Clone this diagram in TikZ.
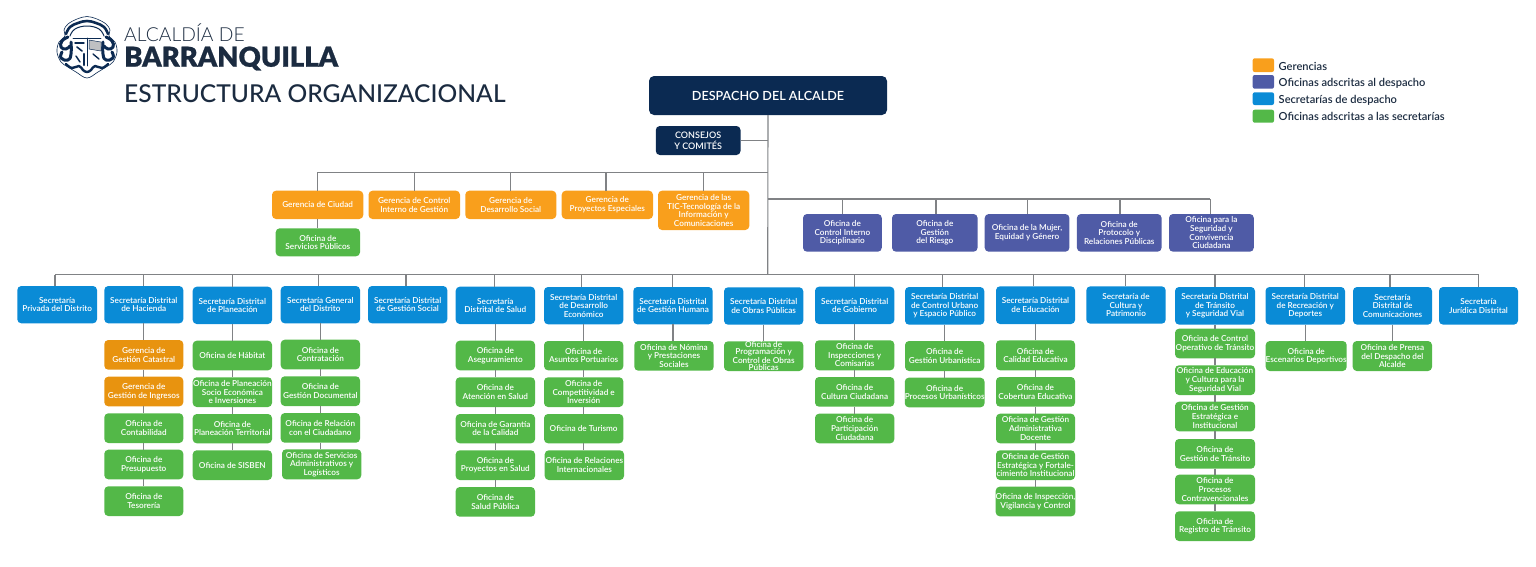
\documentclass[tikz,border=0pt]{standalone}
\usepackage{fontspec}
\setmainfont{Lato Semibold}
\newfontfamily\hvy[FakeBold=0.8]{Lato Black}
\newfontfamily\lgt{Lato Light}
\newfontfamily\mdm{Lato Medium}
\definecolor{navy}{HTML}{0B2A52}
\definecolor{ink}{HTML}{1B2B40}
\definecolor{orng}{HTML}{F99F1C}
\definecolor{dorng}{HTML}{E8930F}
\definecolor{purp}{HTML}{4F5BA6}
\definecolor{blu}{HTML}{0A8BD6}
\definecolor{grn}{HTML}{53B848}
\definecolor{wire}{HTML}{808285}
\tikzset{
 base/.style={inner sep=0pt,outer sep=0pt,rounded corners=4pt,align=center,text=white,font=\fontsize{8.2}{8.6}\selectfont},
 sec/.style={base,fill=blu},
 ofi/.style={base,fill=grn},
 ger/.style={base,fill=orng},
 ger2/.style={base,fill=dorng},
 ads/.style={base,fill=purp},
 top/.style={base,fill=navy},
 swatch/.style={inner sep=0pt,outer sep=0pt,rounded corners=2pt},
 legend/.style={anchor=west,inner sep=0pt,text=ink,font=\fontsize{11.1}{11.1}\selectfont},
 conn/.style={draw=wire,line width=1.1pt},
 seal/.style={draw=navy,line cap=round,line join=round}
}
\newcommand{\bx}[7]{\pgfmathsetmacro\cxx{(#3+#5)/2}\pgfmathsetmacro\cyy{(#4+#6)/2}\pgfmathsetmacro\wwd{#5-#3}\pgfmathsetmacro\hgt{#6-#4}\node[#2,minimum width=\wwd pt,minimum height=\hgt pt] (#1) at (\cxx,\cyy) {#7};}
\newcommand{\ch}[2]{\draw[conn] (#1.south) -- (#1.south |- #2.north);}
\begin{document}
\begin{tikzpicture}[x=1pt,y=-1pt]
\useasboundingbox (0,0) rectangle (1536,566);
% seal
\draw[seal,line width=.6pt,fill=white] plot[smooth cycle,tension=.6] coordinates {(87,16.5)(97,19)(106,24)(110,30)(109,36)(115,42)(117,52)(113,62)(106,67)(98,72)(87,78)(76,72)(68,67)(61,62)(57,52)(59,42)(65,36)(64,30)(68,24)(77,19)};
\draw[seal,line width=2.6pt] plot[smooth,tension=.7] coordinates {(66,34)(70,27)(78,23)(87,21)(96,23)(104,27)(108,34)};
\draw[seal,line width=1pt] plot[smooth,tension=.7] coordinates {(70,36)(75,29)(87,26)(99,29)(104,36)};
\draw[seal,line width=3pt] plot[smooth,tension=.8] coordinates {(68,37)(62,41)(61,47)(66,49)(70,46)};
\draw[seal,line width=3pt] plot[smooth,tension=.8] coordinates {(106,37)(112,41)(113,47)(108,49)(104,46)};
\draw[seal,line width=3pt] plot[smooth,tension=.8] coordinates {(71,42)(71,54)(68,60)(61,58)(62,52)};
\draw[seal,line width=3pt] plot[smooth,tension=.8] coordinates {(103,42)(103,54)(106,60)(113,58)(112,52)};
\draw[seal,line width=2.4pt] plot[smooth,tension=.8] coordinates {(66,64)(72,68)(79,66)(83,70)(87,72)(91,70)(95,66)(102,68)(108,64)};
\draw[seal,line width=.8pt] (73,38) -- (101,38);
\draw[seal,line width=.8pt] (87,38) -- (87,66);
\draw[seal,line width=1.4pt] (75,43) -- (84,43);
\draw[seal,line width=.5pt,fill=wire!50] (89,40) -- (101,42) -- (101,51) -- (89,49) -- cycle;
\draw[seal,line width=1.6pt] (77,47) -- (82,51);
\draw[seal,line width=2.2pt] (84,54) -- (84,65);
\draw[seal,line width=1.4pt] (93,54) -- (99,59);
\draw[seal,line width=1.4pt] (76,56) -- (80,62);
% title
\node[inner sep=0pt,anchor=base west,text=ink,font=\lgt\fontsize{19.3}{19.3}\selectfont] (lg1) at (124,41.7) {ALCALDÍA DE};
\node[inner sep=0pt,anchor=base west,text=ink,font=\hvy\fontsize{27.4}{27.4}\selectfont] (lg2) at (124,66.7) {BARRANQUILLA};
\node[inner sep=0pt,anchor=base west,text=ink,font=\mdm\fontsize{24.6}{24.6}\selectfont] (ttl) at (124,102.7) {ESTRUCTURA ORGANIZACIONAL};
% legend
\bx{k1}{swatch,fill=orng}{1252.7}{58.3}{1274}{72}{}
\bx{k2}{swatch,fill=purp}{1252.7}{75}{1274}{88.7}{}
\bx{k3}{swatch,fill=blu}{1252.7}{92.3}{1274}{105}{}
\bx{k4}{swatch,fill=grn}{1252.7}{109.7}{1274}{122.7}{}
\node[legend] (t1) at (1278.5,66) {Gerencias};
\node[legend] (t2) at (1278.5,83) {Oficinas adscritas al despacho};
\node[legend] (t3) at (1278.5,100) {Secretarías de despacho};
\node[legend] (t4) at (1278.5,116.5) {Oficinas adscritas a las secretarías};
% top
\bx{desp}{top,font=\fontsize{12.6}{13}\selectfont,rounded corners=5pt}{649}{76}{887}{115}{DESPACHO DEL ALCALDE}
\bx{cons}{top,font=\fontsize{9}{11}\selectfont}{655.8}{126}{740.5}{155}{CONSEJOS\\Y COMITÉS}
% gerencias
\bx{g1}{ger}{272}{190.7}{363.3}{219}{Gerencia de Ciudad}
\bx{g2}{ger}{368.5}{190.7}{460}{219}{Gerencia de Control\\Interno de Gestión}
\bx{g3}{ger}{465.3}{190.7}{556.3}{219}{Gerencia de\\Desarrollo Social}
\bx{g4}{ger}{561.7}{190.7}{653}{219}{Gerencia de\\Proyectos Especiales}
\bx{g5}{ger}{658}{190.7}{749.3}{230}{Gerencia de las\\TIC-Tecnología de la\\Información y\\Comunicaciones}
\bx{g1a}{ofi}{275.7}{228.3}{360}{256.3}{Oficina de\\Servicios Públicos}
% adscritas
\bx{a1}{ads}{803}{214}{881.8}{251.7}{Oficina de\\Control Interno\\Disciplinario}
\bx{a2}{ads}{892}{214}{977.6}{251.7}{Oficina de\\Gestión\\del Riesgo}
\bx{a3}{ads}{984.7}{214}{1069.4}{251.7}{Oficina de la Mujer,\\Equidad y Género}
\bx{a4}{ads}{1076.9}{214}{1161.6}{251.7}{Oficina de\\Protocolo y\\Relaciones Públicas}
\bx{a5}{ads}{1169}{214}{1253.8}{251.7}{Oficina para la\\Seguridad y\\Convivencia\\Ciudadana}
% secretarias
\bx{s1}{sec}{17.3}{286}{97}{323.3}{Secretaría\\Privada del Distrito}
\bx{s2}{sec}{104.3}{286}{183.3}{323.3}{Secretaría Distrital\\de Hacienda}
\bx{s3}{sec}{192.7}{286.7}{272}{324}{Secretaría Distrital\\de Planeación}
\bx{s4}{sec}{280.7}{286}{360}{323.3}{Secretaría General\\del Distrito}
\bx{s5}{sec}{368}{286}{447.3}{323.3}{Secretaría Distrital\\de Gestión Social}
\bx{s6}{sec}{455.7}{286.7}{535}{324}{Secretaría\\Distrital de Salud}
\bx{s7}{sec}{544}{287}{623.3}{324.3}{Secretaría Distrital\\de Desarrollo\\Económico}
\bx{s8}{sec}{633.3}{287}{712.7}{324.3}{Secretaría Distrital\\de Gestión Humana}
\bx{s9}{sec}{724}{287.3}{803.3}{324.7}{Secretaría Distrital\\de Obras Públicas}
\bx{s10}{sec}{815}{286.7}{894.3}{324}{Secretaría Distrital\\de Gobierno}
\bx{s11}{sec}{905}{287}{984.3}{324.7}{Secretaría Distrital\\de Control Urbano\\y Espacio Público}
\bx{s12}{sec}{996}{286.3}{1075}{324}{Secretaría Distrital\\de Educación}
\bx{s13}{sec}{1086.3}{286.3}{1165.7}{323.7}{Secretaría de\\Cultura y\\Patrimonio}
\bx{s14}{sec}{1175}{287}{1255}{324.6}{Secretaría Distrital\\de Tránsito\\y Seguridad Vial}
\bx{s15}{sec}{1265.5}{287}{1345}{324.6}{Secretaría Distrital\\de Recreación y\\Deportes}
\bx{s16}{sec}{1353}{287}{1432}{324.6}{Secretaría\\Distrital de\\Comunicaciones}
\bx{s17}{sec}{1439}{287}{1518}{324.6}{Secretaría\\Jurídica Distrital}
% s2
\bx{o21}{ger2}{104.3}{340}{183.3}{369.7}{Gerencia de\\Gestión Catastral}
\bx{o22}{ger2}{104.3}{376.7}{183.3}{406.3}{Gerencia de\\Gestión de Ingresos}
\bx{o23}{ofi}{104.3}{413.3}{183.3}{443}{Oficina de\\Contabilidad}
\bx{o24}{ofi}{104.3}{449.7}{183.3}{479.3}{Oficina de\\Presupuesto}
\bx{o25}{ofi}{104.3}{486.3}{183.3}{516}{Oficina de\\Tesorería}
% s3
\bx{o31}{ofi}{192.7}{340.7}{272}{370.3}{Oficina de Hábitat}
\bx{o32}{ofi}{192.7}{377.3}{272}{407}{Oficina de Planeación\\Socio Económica\\e Inversiones}
\bx{o33}{ofi}{192.7}{414}{272}{443.3}{Oficina de\\Planeación Territorial}
\bx{o34}{ofi}{192.7}{450.3}{272}{480}{Oficina de SISBEN}
% s4
\bx{o41}{ofi}{280.7}{339.7}{360}{369.3}{Oficina de\\Contratación}
\bx{o42}{ofi}{280.7}{376.3}{360}{406}{Oficina de\\Gestión Documental}
\bx{o43}{ofi}{280.7}{413}{360}{442.7}{Oficina de Relación\\con el Ciudadano}
\bx{o44}{ofi}{282}{449.3}{361.3}{479.3}{Oficina de Servicios\\Administrativos y\\Logísticos}
% s6
\bx{o61}{ofi}{455.7}{340.7}{535}{370.3}{Oficina de\\Aseguramiento}
\bx{o62}{ofi}{455.7}{377.3}{535}{407}{Oficina de\\Atención en Salud}
\bx{o63}{ofi}{455.7}{414}{535}{443.3}{Oficina de Garantía\\de la Calidad}
\bx{o64}{ofi}{455.7}{450.3}{535}{480}{Oficina de\\Proyectos en Salud}
\bx{o65}{ofi}{455.7}{487}{535}{516.7}{Oficina de\\Salud Pública}
% s7
\bx{o71}{ofi}{544}{341}{623.3}{370.3}{Oficina de\\Asuntos Portuarios}
\bx{o72}{ofi}{544}{377.3}{623.3}{407}{Oficina de\\Competitividad e\\Inversión}
\bx{o73}{ofi}{544}{414}{623.3}{443.3}{Oficina de Turismo}
\bx{o74}{ofi}{544.7}{450.3}{624}{480}{Oficina de Relaciones\\Internacionales}
% s8 s9
\bx{o81}{ofi}{634.3}{341}{713.7}{370.7}{Oficina de Nómina\\y Prestaciones\\Sociales}
\bx{o91}{ofi,font=\fontsize{8.2}{7.5}\selectfont}{724}{341.3}{803.3}{371}{Oficina de\\Programación y\\Control de Obras\\Públicas}
% s10
\bx{o101}{ofi}{815}{340.3}{894.3}{370.3}{Oficina de\\Inspecciones y\\Comisarías}
\bx{o102}{ofi}{815}{377}{894.3}{406.7}{Oficina de\\Cultura Ciudadana}
\bx{o103}{ofi}{815}{413.7}{894.3}{443.3}{Oficina de\\Participación\\Ciudadana}
% s11
\bx{o111}{ofi}{905}{341}{984.3}{371}{Oficina de\\Gestión Urbanística}
\bx{o112}{ofi}{905}{377.7}{984.3}{407.3}{Oficina de\\Procesos Urbanísticos}
% s12
\bx{o121}{ofi}{996}{340.3}{1075}{370.3}{Oficina de\\Calidad Educativa}
\bx{o122}{ofi}{996}{377}{1075}{406.7}{Oficina de\\Cobertura Educativa}
\bx{o123}{ofi}{996}{413.7}{1075}{443.3}{Oficina de Gestión\\Administrativa\\Docente}
\bx{o124}{ofi}{996}{450.3}{1075}{480}{Oficina de Gestión\\Estratégica y Fortale-\\cimiento Institucional}
\bx{o125}{ofi}{996}{486.7}{1075}{516.3}{Oficina de Inspección,\\Vigilancia y Control}
% s14
\bx{o141}{ofi}{1175}{328.7}{1255}{358.3}{Oficina de Control\\Operativo de Tránsito}
\bx{o142}{ofi}{1175}{365.3}{1255}{395}{Oficina de Educación\\y Cultura para la\\Seguridad Vial}
\bx{o143}{ofi}{1175}{401.7}{1255}{431.3}{Oficina de Gestión\\Estratégica e\\Institucional}
\bx{o144}{ofi}{1175}{439}{1255}{468.7}{Oficina de\\Gestión de Tránsito}
\bx{o145}{ofi}{1175}{474.7}{1255}{504.3}{Oficina de\\Procesos\\Contravencionales}
\bx{o146}{ofi}{1175}{511.3}{1255}{541}{Oficina de\\Registro de Tránsito}
% s15 s16
\bx{o151}{ofi}{1266.7}{341}{1345.7}{371}{Oficina de\\Escenarios Deportivos}
\bx{o161}{ofi}{1352.7}{341}{1432}{371}{Oficina de Prensa\\del Despacho del\\Alcalde}
% connectors
\coordinate (tr1) at (desp.south |- cons.east);
\coordinate (tr2) at (767.7,172.3);
\coordinate (tr3) at (767.7,199);
\coordinate (tr4) at (767.7,274.6);
\draw[conn] (desp.south) -- (tr4);
\draw[conn] (cons.east) -- (tr1);
% gerencias bus
\foreach \n/\x in {g1/317.7,g2/414.3,g3/510.7,g4/606,g5/703.7}{
 \coordinate (b\n) at (\x,172.3);
 \draw[conn] (b\n) -- (b\n |- \n.north);
}
\draw[conn] (bg1) -- (tr2);
\ch{g1}{g1a}
% adscritas bus
\foreach \n/\x in {a1/842.6,a2/936,a3/1027.4,a4/1120,a5/1210.2}{
 \coordinate (b\n) at (\x,199);
 \draw[conn] (b\n) -- (b\n |- \n.north);
}
\draw[conn] (tr3) -- (ba5);
% secretarias bus
\foreach \n/\x in {s1/55,s2/143.3,s3/232.3,s4/318.3,s5/406,s6/494.7,s7/581.3,s8/672.7,s10/854.3,s11/942.3,s12/1033.3,s13/1125.7,s14/1215,s15/1304.6,s16/1390,s17/1478.5}{
 \coordinate (b\n) at (\x,274.6);
 \draw[conn] (b\n) -- (b\n |- \n.north);
}
\draw[conn] (bs1) -- (bs17);
% chains
\ch{s2}{o21}\ch{o21}{o22}\ch{o22}{o23}\ch{o23}{o24}\ch{o24}{o25}
\ch{s3}{o31}\ch{o31}{o32}\ch{o32}{o33}\ch{o33}{o34}
\ch{s4}{o41}\ch{o41}{o42}\ch{o42}{o43}\ch{o43}{o44}
\ch{s6}{o61}\ch{o61}{o62}\ch{o62}{o63}\ch{o63}{o64}\ch{o64}{o65}
\ch{s7}{o71}\ch{o71}{o72}\ch{o72}{o73}\ch{o73}{o74}
\ch{s8}{o81}
\ch{s9}{o91}
\ch{s10}{o101}\ch{o101}{o102}\ch{o102}{o103}
\ch{s11}{o111}\ch{o111}{o112}
\ch{s12}{o121}\ch{o121}{o122}\ch{o122}{o123}\ch{o123}{o124}\ch{o124}{o125}
\ch{s14}{o141}\ch{o141}{o142}\ch{o142}{o143}\ch{o143}{o144}\ch{o144}{o145}\ch{o145}{o146}
\ch{s15}{o151}
\ch{s16}{o161}
\end{tikzpicture}
\end{document}
